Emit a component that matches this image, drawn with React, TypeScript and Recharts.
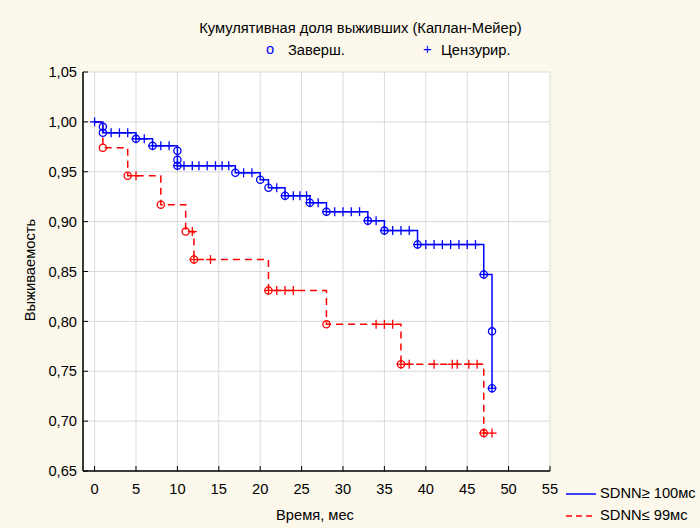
import React from 'react';
import {
  ComposedChart,
  Line,
  Scatter,
  XAxis,
  YAxis,
  CartesianGrid,
} from 'recharts';

// Kaplan-Meier: SDNN >= 100 ms (blue) vs SDNN <= 99 ms (red)
const xTicks = [0, 5, 10, 15, 20, 25, 30, 35, 40, 45, 50, 55];
const yTicks = [0.65, 0.7, 0.75, 0.8, 0.85, 0.9, 0.95, 1.0, 1.05];

const highEventTimes = [1, 1, 5, 7, 10, 10, 10, 17, 20, 21, 23, 26, 28, 33, 35, 39, 47, 48, 48];
const highEventSurv = [
  0.995, 0.989, 0.983, 0.976, 0.971, 0.962, 0.956, 0.949, 0.942, 0.934, 0.926, 0.919, 0.91,
  0.901, 0.891, 0.877, 0.847, 0.79, 0.733,
];
const highCensored = [
  0, 2, 3, 4, 5, 6, 7, 8, 9, 10, 10.8, 11.8, 12.6, 13.6, 14.6, 15.4, 16.2, 18, 19, 22, 23, 24,
  24.8, 25.6, 26, 27, 28, 29, 30, 31, 32, 33, 34, 35, 36, 37, 38, 39, 40, 41, 42, 43, 44, 45, 46,
  47, 48,
];

const lowEventTimes = [1, 4, 8, 11, 12, 21, 28, 37, 47];
const lowEventSurv = [0.974, 0.946, 0.917, 0.89, 0.862, 0.831, 0.797, 0.757, 0.688];
const lowCensored = [
  5, 11.8, 12, 14, 21, 22, 23, 24, 34, 35, 36, 37, 38, 41, 43.2, 43.8, 45.2, 46.2, 47, 48,
];

const BLUE = '#0000ff';
const RED = '#ff0000';
const FONT = '"Liberation Sans", Arial, sans-serif';
const FS = 14.7;

function stepLine(times: number[], surv: number[], censored: number[]) {
  const pts = [{ t: 0, s: 1 }];
  times.forEach((t, i) => pts.push({ t, s: surv[i] }));
  const end = Math.max(...times, ...censored);
  if (end > times[times.length - 1]) pts.push({ t: end, s: surv[surv.length - 1] });
  return pts;
}

function survAt(times: number[], surv: number[], t: number) {
  let s = 1;
  times.forEach((et, i) => {
    if (et <= t) s = surv[i];
  });
  return s;
}

const highLine = stepLine(highEventTimes, highEventSurv, highCensored);
const lowLine = stepLine(lowEventTimes, lowEventSurv, lowCensored);
const highEvents = highEventTimes.map((t, i) => ({ t, s: highEventSurv[i] }));
const lowEvents = lowEventTimes.map((t, i) => ({ t, s: lowEventSurv[i] }));
const highCens = highCensored.map((t) => ({ t, s: survAt(highEventTimes, highEventSurv, t) }));
const lowCens = lowCensored.map((t) => ({ t, s: survAt(lowEventTimes, lowEventSurv, t) }));

const circleShape = (color: string) => (p: any) => (
  <circle cx={p.cx} cy={p.cy} r={3.6} fill="none" stroke={color} strokeWidth={1.3} />
);
const plusShape = (color: string) => (p: any) => (
  <g stroke={color} strokeWidth={1.3}>
    <line x1={p.cx - 4.5} y1={p.cy} x2={p.cx + 4.5} y2={p.cy} />
    <line x1={p.cx} y1={p.cy - 4.5} x2={p.cx} y2={p.cy + 4.5} />
  </g>
);

const fmtY = (v: number) => v.toFixed(2).replace('.', ',');
const none = () => '';
const tickStyle = { fontSize: FS, fill: '#000', fontFamily: FONT };

export default function App() {
  return (
    <div
      style={{
        position: 'absolute',
        left: 0,
        top: 0,
        width: 700,
        height: 528,
        background: '#fcf8ec',
        fontFamily: FONT,
        fontSize: FS,
        color: '#000',
      }}
    >
      <div style={{ position: 'absolute', left: 0, width: 721, top: 20, textAlign: 'center' }}>
        Кумулятивная доля выживших (Каплан-Мейер)
      </div>
      <div style={{ position: 'absolute', left: 266, top: 41, color: BLUE }}>o</div>
      <div style={{ position: 'absolute', left: 288, top: 42 }}>Заверш.</div>
      <div style={{ position: 'absolute', left: 423, top: 41, color: BLUE }}>+</div>
      <div style={{ position: 'absolute', left: 441, top: 42 }}>Цензурир.</div>

      <div
        style={{
          position: 'absolute',
          left: 30,
          top: 270,
          transform: 'translate(-50%, -50%) rotate(-90deg)',
          whiteSpace: 'nowrap',
        }}
      >
        Выживаемость
      </div>
      <div style={{ position: 'absolute', left: 276, top: 507 }}>Время, мес</div>

      <svg style={{ position: 'absolute', left: 0, top: 0 }} width={700} height={528}>
        <line x1={566} y1={494} x2={596} y2={494} stroke={BLUE} strokeWidth={1.5} />
        <line x1={566} y1={516} x2={596} y2={516} stroke={RED} strokeWidth={1.5} strokeDasharray="6 4" />
      </svg>
      <div style={{ position: 'absolute', left: 600, top: 485 }}>SDNN≥ 100мс</div>
      <div style={{ position: 'absolute', left: 600, top: 507 }}>SDNN≤ 99мс</div>

      <div style={{ position: 'absolute', left: 0, top: 0 }}>
        <ComposedChart
          width={700}
          height={528}
          margin={{ top: 72, right: 150, bottom: 27, left: 43 }}
        >
          <CartesianGrid fill="#ffffff" stroke="#d9d9d9" strokeWidth={1} />
          <XAxis
            dataKey="t"
            type="number"
            domain={[-1.4, 55]}
            ticks={xTicks}
            allowDataOverflow
            height={30}
            tickSize={-5}
            tickMargin={18}
            tick={tickStyle}
            axisLine={{ stroke: '#000', strokeWidth: 1.5 }}
            tickLine={{ stroke: '#000' }}
          />
          <XAxis
            xAxisId="top"
            orientation="top"
            dataKey="t"
            type="number"
            domain={[-1.4, 55]}
            ticks={xTicks}
            allowDataOverflow
            height={0}
            tickSize={-5}
            tickFormatter={none}
            axisLine={{ stroke: '#000', strokeWidth: 1.5 }}
            tickLine={{ stroke: '#000' }}
          />
          <YAxis
            type="number"
            domain={[0.65, 1.05]}
            ticks={yTicks}
            allowDataOverflow
            width={40}
            tickSize={-5}
            tickMargin={11}
            tickFormatter={fmtY}
            tick={tickStyle}
            axisLine={{ stroke: '#000', strokeWidth: 1.5 }}
            tickLine={{ stroke: '#000' }}
          />
          <YAxis
            yAxisId="right"
            orientation="right"
            type="number"
            domain={[0.65, 1.05]}
            ticks={yTicks}
            allowDataOverflow
            width={0}
            tickSize={-5}
            tickFormatter={none}
            axisLine={{ stroke: '#000', strokeWidth: 1.5 }}
            tickLine={{ stroke: '#000' }}
          />
          <Line
            data={lowLine}
            dataKey="s"
            type="stepAfter"
            stroke={RED}
            strokeWidth={1.5}
            strokeDasharray="7 5"
            dot={false}
            activeDot={false}
            isAnimationActive={false}
          />
          <Line
            data={highLine}
            dataKey="s"
            type="stepAfter"
            stroke={BLUE}
            strokeWidth={1.5}
            dot={false}
            activeDot={false}
            isAnimationActive={false}
          />
          <Scatter data={lowEvents} dataKey="s" shape={circleShape(RED)} isAnimationActive={false} />
          <Scatter data={lowCens} dataKey="s" shape={plusShape(RED)} isAnimationActive={false} />
          <Scatter data={highEvents} dataKey="s" shape={circleShape(BLUE)} isAnimationActive={false} />
          <Scatter data={highCens} dataKey="s" shape={plusShape(BLUE)} isAnimationActive={false} />
        </ComposedChart>
      </div>
    </div>
  );
}
